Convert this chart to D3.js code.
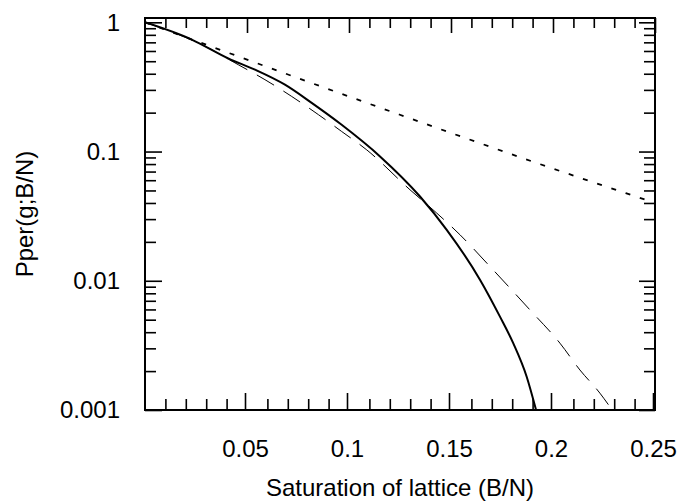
<!DOCTYPE html>
<html>
<head>
<meta charset="utf-8">
<script src="https://cdn.jsdelivr.net/npm/d3@7"></script>
<style>
  body { margin: 0; background: #fff; }
  svg text { font-family: "Liberation Sans", Arial, sans-serif; fill: #000; }
</style>
</head>
<body>
<svg id="chart" width="683" height="504"></svg>
<script>
// values: saturation s = B/N, probability Pper
var solidS = [0, 0.0229, 0.0408, 0.0539, 0.0686, 0.0817, 0.0964, 0.1152, 0.1348, 0.1479, 0.1642, 0.1740, 0.1805, 0.1871, 0.1917];
var solidP = [1, 0.735, 0.525, 0.430, 0.329, 0.238, 0.161, 0.0917, 0.0449, 0.0248, 0.0102, 0.00528, 0.00329, 0.00181, 0.001];

var dashS = [0, 0.0294, 0.0457, 0.0588, 0.0719, 0.0850, 0.0964, 0.1087, 0.1299, 0.1430, 0.1544, 0.1691, 0.1887, 0.2034, 0.2132, 0.2230, 0.229];
var dashP = [1, 0.652, 0.470, 0.360, 0.267, 0.193, 0.143, 0.103, 0.0506, 0.0334, 0.0227, 0.0129, 0.00595, 0.00329, 0.00204, 0.00135, 0.001];

var dotS = [0, 0.1087, 0.1969, 0.25];
var dotP = [1, 0.238, 0.0767, 0.040];

var xMajor = [0.05, 0.1, 0.15, 0.2, 0.25];
var xMinor = [0.01, 0.02, 0.03, 0.04, 0.06, 0.07, 0.08, 0.09, 0.11, 0.12, 0.13, 0.14,
              0.16, 0.17, 0.18, 0.19, 0.21, 0.22, 0.23, 0.24];
var yMajor = [1, 0.1, 0.01, 0.001];
var yMajorLabels = ["1", "0.1", "0.01", "0.001"];

var xTitle = "Saturation of lattice (B/N)";
var yTitle = "Pper(g;B/N)";

var svg = d3.select("#chart");
var plotL = 145, plotR = 655, plotT = 18, plotB = 410;

var x = d3.scaleLinear().domain([0, 0.25]).range([plotL, plotR]);
var y = d3.scaleLog().domain([0.001, 1.08]).range([plotB, plotT]);

// minor y ticks: 2..9 in each decade
var yMinor = [];
[0.001, 0.01, 0.1].forEach(function(d) {
    for (var k = 2; k <= 9; k++) yMinor.push(d * k);
});

svg.append("clipPath").attr("id", "plotclip")
    .append("rect")
    .attr("x", plotL).attr("y", plotT)
    .attr("width", plotR - plotL).attr("height", plotB - plotT);

function drawAxis(axis, tx, ty) {
    var g = svg.append("g")
        .attr("transform", "translate(" + tx + "," + ty + ")")
        .call(axis);
    g.select(".domain").remove();
    g.selectAll(".tick line").attr("stroke", "#000").attr("stroke-width", 1.6);
    g.selectAll("text").style("font-size", "24px").style("font-family", null);
    return g;
}

// bottom
drawAxis(d3.axisBottom(x).tickValues(xMajor).tickSize(-17).tickPadding(30)
    .tickFormat(function(d) { return String(+d.toFixed(2)); }), -2, plotB);
drawAxis(d3.axisBottom(x).tickValues(xMinor).tickSize(-11).tickFormat(""), 0, plotB);
// top
drawAxis(d3.axisTop(x).tickValues(xMajor).tickSize(-15).tickFormat(""), 0, plotT);
drawAxis(d3.axisTop(x).tickValues(xMinor).tickSize(-10).tickFormat(""), 0, plotT);
// left
drawAxis(d3.axisLeft(y).tickValues(yMajor).tickSize(-17).tickPadding(25)
    .tickFormat(function(d, i) { return yMajorLabels[i]; }), plotL, 0);
drawAxis(d3.axisLeft(y).tickValues(yMinor).tickSize(-11).tickFormat(""), plotL, 0);
// right
drawAxis(d3.axisRight(y).tickValues(yMajor).tickSize(-16).tickFormat(""), plotR, 0);
drawAxis(d3.axisRight(y).tickValues(yMinor).tickSize(-11).tickFormat(""), plotR, 0);

function series(sArr, pArr) {
    return sArr.map(function(s, i) { return [s, pArr[i]]; });
}

var line = d3.line()
    .x(function(d) { return x(d[0]); })
    .y(function(d) { return y(d[1]); })
    .curve(d3.curveMonotoneX);

var curves = svg.append("g").attr("clip-path", "url(#plotclip)");

curves.append("path")
    .datum(series(dotS, dotP))
    .attr("d", line)
    .attr("fill", "none")
    .attr("stroke", "#000")
    .attr("stroke-width", 1.8)
    .attr("stroke-dasharray", "5,10");

curves.append("path")
    .datum(series(dashS, dashP))
    .attr("d", line)
    .attr("fill", "none")
    .attr("stroke", "#000")
    .attr("stroke-width", 1)
    .attr("stroke-dasharray", "20,11");

curves.append("path")
    .datum(series(solidS, solidP))
    .attr("d", line)
    .attr("fill", "none")
    .attr("stroke", "#000")
    .attr("stroke-width", 2);

// frame
svg.append("rect")
    .attr("x", plotL).attr("y", plotT)
    .attr("width", plotR - plotL).attr("height", plotB - plotT)
    .attr("fill", "none")
    .attr("stroke", "#000")
    .attr("stroke-width", 2);

svg.append("text")
    .attr("x", (plotL + plotR) / 2)
    .attr("y", 496)
    .attr("text-anchor", "middle")
    .style("font-size", "24px")
    .text(xTitle);

svg.append("text")
    .attr("transform", "translate(33," + ((plotT + plotB) / 2) + ") rotate(-90)")
    .attr("text-anchor", "middle")
    .style("font-size", "24px")
    .text(yTitle);
</script>
</body>
</html>
